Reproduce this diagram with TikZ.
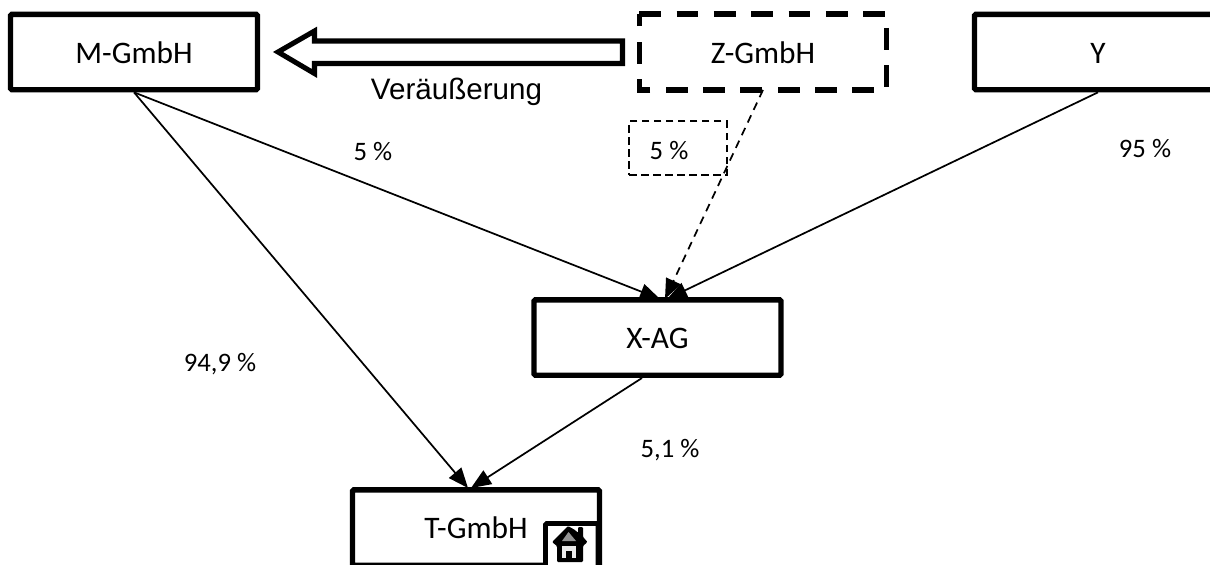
\documentclass[tikz,border=0pt]{standalone}
\usepackage{fontspec}
\setmainfont{Carlito}
\newfontfamily\lib{Liberation Sans}
\usetikzlibrary{arrows.meta}
\tikzset{
  px/.style={x=0.75pt,y=-0.75pt},
  boxsize/.style={minimum width=185.25pt,minimum height=56.5pt,inner sep=0pt,text height=17pt,text depth=0pt,font=\fontsize{23.5pt}{26pt}\selectfont},
  entity/.style={boxsize,draw=black,line width=4pt,fill=white,rounded corners=1pt},
  dashentity/.style={draw=black,line width=4pt,dash pattern=on 16.3pt off 11.7pt},
  pct/.style={font=\fontsize{20pt}{24pt}\selectfont,inner sep=0pt},
  own/.style={line width=1.3pt,-{Triangle[length=15pt,width=12pt]}},
  owndash/.style={own,dash pattern=on 6pt off 4.5pt},
  blockarrow/.style={draw=black,line width=3.8pt,fill=white,miter limit=10},
  dashbox/.style={draw=black,line width=1.3pt,dash pattern=on 5.5pt off 3.5pt,minimum width=73pt,minimum height=40pt,inner sep=0pt}
}
\begin{document}
\begin{tikzpicture}[px]
\useasboundingbox (0,0) rectangle (1210,564);
\clip (0,0) rectangle (1210,564);
\node[entity] (m) at (134,52) {M-GmbH};
\node[boxsize] (z) at (763,52) {Z-GmbH};
\draw[dashentity] (z.north west) -- (z.north east) -- (z.south east) -- (z.south west) -- cycle;
\node[entity] (y) at (1098,52) {Y};
\node[entity] (x) at (657.5,337.5) {X-AG};
\node[entity] (t) at (476,527.5) {T-GmbH};
\node[dashbox] (d) at (678,148) {};
\node[pct] (l1) at (373,152) {5 \%};
\node[pct] (l2) at (669,151) {5 \%};
\node[pct] (l3) at (1145,149) {95 \%};
\node[pct] (l4) at (220,364) {94,9 \%};
\node[pct] (l5) at (670,450) {5,1 \%};
\node[inner sep=0pt,font=\lib\fontsize{22.2pt}{25pt}\selectfont] (v) at (456.5,91.5) {Veräußerung};
\coordinate (xs) at (642,378);
\coordinate (xn1) at (660,299);
\coordinate (xn2) at (665,299);
\coordinate (xn3) at (667,299);
\coordinate (tn1) at (468,488);
\coordinate (tn2) at (471,488);
\draw[own] (m.south) -- (tn1);
\draw[own] (m.south) -- (xn1);
\draw[owndash] (z.south) -- (xn2);
\draw[own] (y.south) -- (xn3);
\draw[own] (xs) -- (tn2);
\draw[blockarrow] (622.5,41) -- (314.5,41) -- (314.5,31) -- (278,52) -- (314.5,73.5) -- (314.5,63.5) -- (622.5,63.5) -- cycle;
% house icon
\draw[draw=black,line width=3.6pt,fill=white,rounded corners=1pt] (545.5,523.5) rectangle (598,590);
\fill[black,rounded corners=0.8pt] (578,533) -- (578,527) -- (583,527) -- (583,537) -- (587.5,542) -- (583,546) -- (583,562) -- (557,562) -- (557,546) -- (552,542) -- (568,526) -- (575,530) -- cycle;
\fill[gray!85] (562,541) -- (568.5,532) -- (576,541) -- cycle;
\fill[gray!15] (562,546) rectangle (576,558);
\fill[black] (566,551) rectangle (572,558);
\end{tikzpicture}
\end{document}
